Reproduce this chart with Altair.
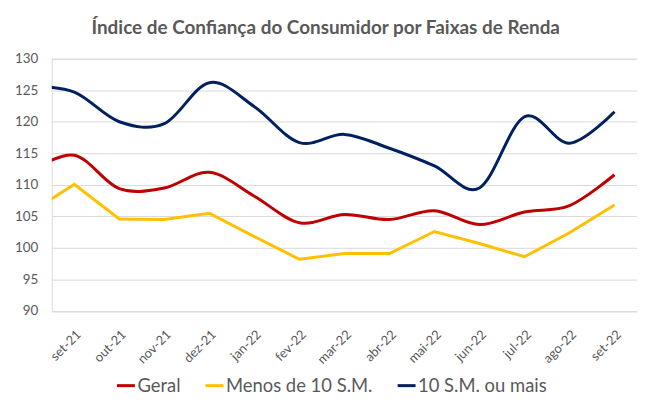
import altair as alt
import pandas as pd

# Months (first one lies just outside the visible axis range and is clipped)
months = ["ago-21", "set-21", "out-21", "nov-21", "dez-21", "jan-22", "fev-22",
          "mar-22", "abr-22", "mai-22", "jun-22", "jul-22", "ago-22", "set-22"]
geral = [112.0, 114.7, 109.4, 109.5, 112.0, 108.2, 104.0, 105.3, 104.5, 105.9, 103.7, 105.7, 106.7, 111.6]
menos = [105.5, 110.1, 104.6, 104.5, 105.5, 101.8, 98.2, 99.1, 99.1, 102.6, 100.7, 98.6, 102.4, 106.8]
mais = [125.7, 124.7, 120.0, 119.7, 126.2, 122.4, 116.7, 118.0, 115.8, 113.0, 109.5, 120.8, 116.6, 121.6]

series = ["Geral", "Menos de 10 S.M.", "10 S.M. ou mais"]
colors = ["#C00000", "#FFC000", "#002060"]
y_ticks = [90, 95, 100, 105, 110, 115, 120, 125, 130]

rows = []
for i, m in enumerate(months):
    for s, vals in zip(series, [geral, menos, mais]):
        rows.append({"idx": i - 1, "mes": m, "serie": s, "valor": vals[i]})
df = pd.DataFrame(rows)

shown = months[1:]
label_expr = "[" + ",".join("'" + m + "'" for m in shown) + "][datum.value]"

FONT = "Lato"
GRAY = "#595959"

x = alt.X("idx:Q",
          scale=alt.Scale(domain=[-0.5, len(shown) - 0.5], nice=False, zero=False),
          axis=alt.Axis(values=list(range(len(shown))), labelExpr=label_expr,
                        labelAngle=-45, title=None, grid=False, domain=False,
                        ticks=False, labelFontSize=13, labelColor=GRAY,
                        labelFont=FONT, labelPadding=17))
y = alt.Y("valor:Q",
          scale=alt.Scale(domain=[90, 130], nice=False, zero=False),
          axis=alt.Axis(values=y_ticks, title=None, domain=False, ticks=False,
                        labelFontSize=13.5, labelColor=GRAY, labelFont=FONT,
                        labelPadding=14, gridColor="#d9d9d9", gridWidth=1))
color = alt.Color("serie:N",
                  scale=alt.Scale(domain=series, range=colors),
                  legend=alt.Legend(title=None, orient="none", direction="horizontal",
                                    legendX=64, legendY=318,
                                    symbolType="stroke", symbolStrokeWidth=3,
                                    symbolSize=324, labelFontSize=18.5,
                                    labelFont=FONT, labelColor=GRAY,
                                    columnPadding=18, labelOffset=1))

base = alt.Chart(df)
smooth = base.transform_filter(alt.datum.serie != "Menos de 10 S.M.").mark_line(
    interpolate="cardinal", strokeWidth=3, clip=True
).encode(x=x, y=y, color=color, detail="serie:N")
straight = base.transform_filter(alt.datum.serie == "Menos de 10 S.M.").mark_line(
    interpolate="linear", strokeWidth=3, clip=True
).encode(x=x, y=y, color=color)

chart = alt.layer(smooth, straight).properties(
    width=588, height=253.5,
    autosize=alt.AutoSizeParams(type="none"),
    padding={"left": 44, "top": 50, "right": 0, "bottom": 90},
    title=alt.TitleParams("Índice de Confiança do Consumidor por Faixas de Renda",
                          fontSize=19, font=FONT, fontWeight="bold", color=GRAY,
                          anchor="middle", frame="bounds", offset=14),
).configure_view(stroke=None).configure(background="white")

chart.save("out.html", embed_options={"renderer": "svg", "actions": False})
